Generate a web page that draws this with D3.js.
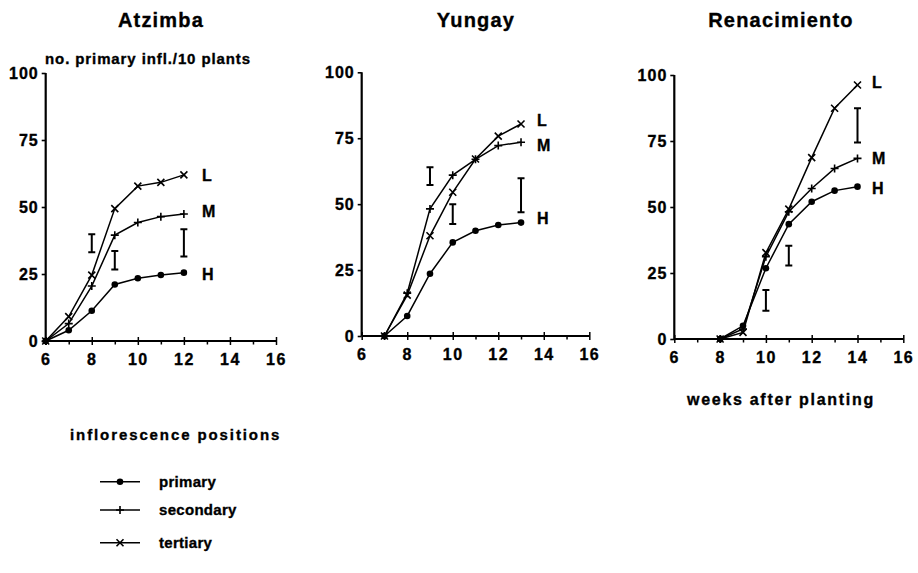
<!DOCTYPE html>
<html>
<head>
<meta charset="utf-8">
<script src="https://cdn.jsdelivr.net/npm/d3@7"></script>
<style>
  html, body { margin: 0; padding: 0; background: #fff; }
  svg { display: block; }
  text { font-family: "Liberation Sans", Arial, Helvetica, sans-serif; font-weight: bold; fill: #000;
         stroke: #000; stroke-width: 0.35px; }
</style>
</head>
<body>
<svg id="chart" width="918" height="573"></svg>
<script>
// Cultivars and weeks after planting
const cultivars = ["Atzimba", "Yungay", "Renacimiento"];
const xTicks = [6, 8, 10, 12, 14, 16];
const yTicks = [0, 25, 50, 75, 100];

// Number of primary inflorescences per 10 plants, by inflorescence position
const atzimbaWeeks = [6, 7, 8, 9, 10, 11, 12];
const atzimbaPrimary = [0, 4, 11.3, 21.1, 23.4, 24.6, 25.5];
const atzimbaSecondary = [0, 6.5, 20.5, 39.5, 44.2, 46.4, 47.4];
const atzimbaTertiary = [0, 9.1, 24.6, 49.4, 57.8, 59.2, 62];
const atzimbaBars = [[8, 33.1, 39.8], [9, 26.7, 33.6], [12, 31.5, 41.7]];

const yungayWeeks = [7, 8, 9, 10, 11, 12, 13];
const yungayPrimary = [0, 7.6, 23.6, 35.5, 39.9, 42.1, 43];
const yungaySecondary = [0, 16.2, 48.2, 61, 67, 72.2, 73.5];
const yungayTertiary = [0, 15.5, 38, 54.5, 67.1, 75.8, 80.4];
const yungayBars = [[9, 57.3, 64], [10, 42.5, 50], [13, 46.9, 59.8]];

const renaWeeks = [8, 9, 10, 11, 12, 13, 14];
const renaPrimary = [0, 5, 26.8, 43.5, 52, 56.2, 57.7];
const renaSecondary = [0, 3.8, 31.2, 48.2, 57, 64.6, 68.4];
const renaTertiary = [0, 2.5, 32.7, 49.2, 68.7, 87.4, 96.2];
const renaBars = [[10, 10.7, 18.6], [11, 27.8, 35.3], [14, 74.4, 87.4]];

// Curve labels (density levels) next to each curve's last point
const curveLabels = ["H", "M", "L"];
const positions = ["primary", "secondary", "tertiary"];

const panels = [
  { weeks: atzimbaWeeks, series: [atzimbaPrimary, atzimbaSecondary, atzimbaTertiary], bars: atzimbaBars,
    frame: { x0: 45.7, x1: 276, top: 73, bottom: 341 }, labelDx: 18, labelDy: [1, -3, 0], titleX: 161 },
  { weeks: yungayWeeks, series: [yungayPrimary, yungaySecondary, yungayTertiary], bars: yungayBars,
    frame: { x0: 361.7, x1: 589.3, top: 72.3, bottom: 336 }, labelDx: 16, labelDy: [-5, 3, -4], titleX: 476 },
  { weeks: renaWeeks, series: [renaPrimary, renaSecondary, renaTertiary], bars: renaBars,
    frame: { x0: 674.3, x1: 903.3, top: 75, bottom: 339 }, labelDx: 14.5, labelDy: [1, 0, -3], titleX: 781 }
];

const svg = d3.select("#chart");
svg.append("rect").attr("width", 918).attr("height", 573).attr("fill", "#fff");

// Marker drawers for the three inflorescence positions
function drawMarker(g, kind, cx, cy) {
  if (kind === 0) {
    g.append("circle").attr("cx", cx).attr("cy", cy).attr("r", 3.3).attr("fill", "#000");
  } else if (kind === 1) {
    g.append("path").attr("d", `M${cx - 4},${cy}H${cx + 4}M${cx},${cy - 4}V${cy + 4}`)
      .attr("stroke", "#000").attr("stroke-width", 1.6);
  } else {
    g.append("path").attr("d", `M${cx - 3.5},${cy - 3.5}L${cx + 3.5},${cy + 3.5}M${cx - 3.5},${cy + 3.5}L${cx + 3.5},${cy - 3.5}`)
      .attr("stroke", "#000").attr("stroke-width", 1.6);
  }
}

panels.forEach((p, i) => {
  const f = p.frame;
  const x = d3.scaleLinear().domain([6, 16]).range([f.x0, f.x1]);
  const y = d3.scaleLinear().domain([0, 100]).range([f.bottom, f.top]);
  const g = svg.append("g");

  // Title
  g.append("text").attr("x", p.titleX).attr("y", 27).attr("text-anchor", "middle")
    .attr("font-size", 20).attr("letter-spacing", 1.2).text(cultivars[i]);

  // Y axis
  const yAxis = g.append("g").attr("transform", `translate(${f.x0},0)`)
    .call(d3.axisLeft(y).tickValues(yTicks).tickSize(4).tickPadding(3));
  yAxis.select(".domain").attr("stroke-width", 2.2).attr("d", `M0,${f.top}V${f.bottom}`);
  yAxis.selectAll(".tick line").attr("stroke-width", 1.6);
  yAxis.selectAll(".tick text").attr("font-size", 16).attr("letter-spacing", 1)
    .attr("font-family", "Liberation Sans, Arial, sans-serif").attr("font-weight", "bold");

  // X axis: every week ticked, even weeks labelled and crossing the line
  const xAxis = g.append("g").attr("transform", `translate(0,${f.bottom})`)
    .call(d3.axisBottom(x).tickValues(d3.range(6, 17)).tickSize(4).tickPadding(9)
      .tickFormat(d => xTicks.includes(d) ? d : ""));
  xAxis.select(".domain").attr("stroke-width", 2.2).attr("d", `M${f.x0},0H${f.x1}`);
  xAxis.selectAll(".tick line")
    .attr("stroke-width", 1.5)
    .attr("y1", d => xTicks.includes(d) ? -4 : 0)
    .attr("y2", d => xTicks.includes(d) ? 4 : 3.5);
  xAxis.selectAll(".tick text").attr("font-size", 16).attr("letter-spacing", 1.5)
    .attr("font-family", "Liberation Sans, Arial, sans-serif").attr("font-weight", "bold");

  // Curves with markers
  const line = d3.line().x((d, k) => x(p.weeks[k])).y(d => y(d));
  p.series.forEach((vals, s) => {
    g.append("path").datum(vals).attr("d", line)
      .attr("fill", "none").attr("stroke", "#000").attr("stroke-width", 1.5);
    vals.forEach((v, k) => drawMarker(g, s, x(p.weeks[k]), y(v)));
    const last = vals.length - 1;
    g.append("text")
      .attr("x", x(p.weeks[last]) + p.labelDx)
      .attr("y", y(vals[last]) + p.labelDy[s] + 6)
      .attr("font-size", 16).text(curveLabels[s]);
  });

  // Least significant difference bars
  p.bars.forEach(([wk, lo, hi]) => {
    const bx = x(wk);
    g.append("path")
      .attr("d", `M${bx},${y(lo)}V${y(hi)}M${bx - 3.5},${y(lo)}H${bx + 3.5}M${bx - 3.5},${y(hi)}H${bx + 3.5}`)
      .attr("stroke", "#000").attr("stroke-width", 2).attr("fill", "none");
  });
});

// Axis captions
svg.append("text").attr("x", 45).attr("y", 64).attr("font-size", 15).attr("letter-spacing", 0.9)
  .text("no. primary infl./10 plants");
svg.append("text").attr("x", 781).attr("y", 405).attr("text-anchor", "middle")
  .attr("font-size", 16).attr("letter-spacing", 1.7).text("weeks after planting");

// Legend
svg.append("text").attr("x", 70).attr("y", 440).attr("font-size", 15).attr("letter-spacing", 1.9)
  .text("inflorescence positions");
const legendY = [481.7, 510, 542.7];
positions.forEach((name, s) => {
  const ly = legendY[s];
  svg.append("path").attr("d", `M100,${ly}H140`).attr("stroke", "#000").attr("stroke-width", 1.6);
  drawMarker(svg, s, 120, ly);
  svg.append("text").attr("x", 159).attr("y", ly + 5).attr("font-size", 15).attr("letter-spacing", 0.3)
    .text(name);
});
</script>
</body>
</html>
